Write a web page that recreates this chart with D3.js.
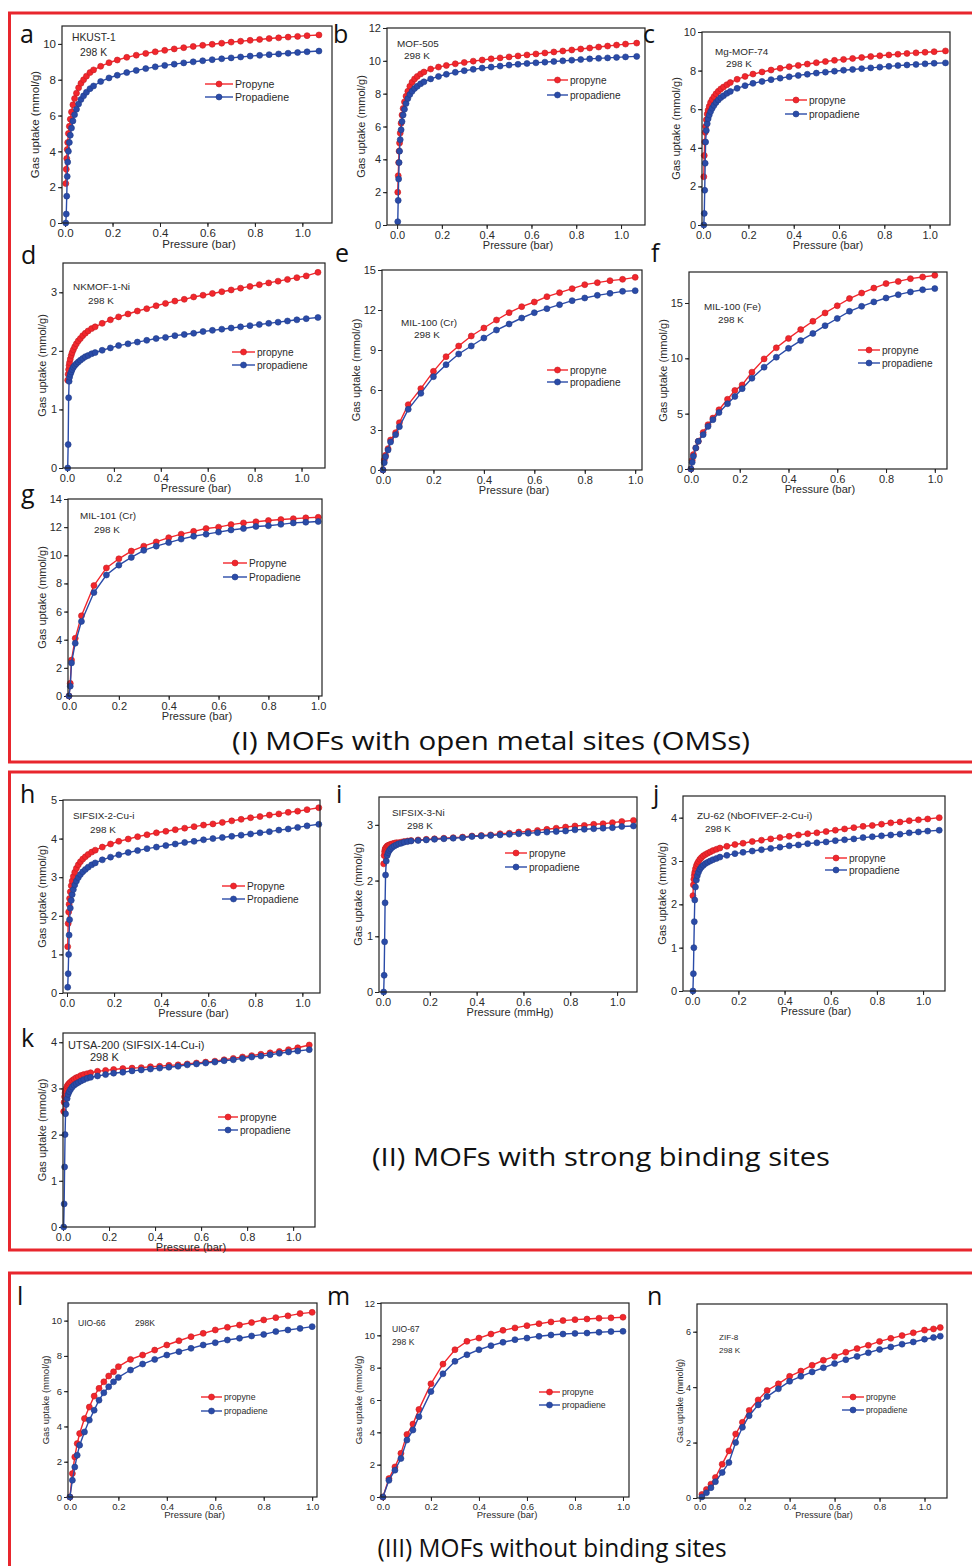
<!DOCTYPE html>
<html>
<head>
<meta charset="utf-8">
<script src="https://cdn.jsdelivr.net/npm/d3@7"></script>
<style>
  body { margin: 0; background: #fff; }
  svg text { font-family: Arial, "Liberation Sans", sans-serif; fill: #2a2a2a; }
  .letter, .section { font-family: "Open Sans", sans-serif !important; fill: #111 !important; }
</style>
</head>
<body>
<svg id="fig" width="972" height="1566"></svg>
<script>
// pressure grid shared by the dense isotherms (bar)
const PA = [0.003, 0.005, 0.007, 0.009, 0.011, 0.014, 0.018, 0.022, 0.027, 0.033, 0.04, 0.048, 0.057, 0.067, 0.078, 0.09, 0.105, 0.12, 0.15, 0.185, 0.22, 0.26, 0.30, 0.34, 0.38, 0.42, 0.46, 0.50, 0.54, 0.58, 0.62, 0.66, 0.70, 0.74, 0.78, 0.82, 0.86, 0.90, 0.94, 0.98, 1.02, 1.07];

const aPropyne    = [2.2, 3.0, 3.6, 4.1, 4.5, 5.0, 5.4, 5.8, 6.2, 6.6, 6.95, 7.25, 7.55, 7.8, 8.0, 8.2, 8.4, 8.55, 8.75, 8.95, 9.1, 9.25, 9.37, 9.47, 9.56, 9.64, 9.72, 9.79, 9.86, 9.92, 9.98, 10.04, 10.1, 10.15, 10.2, 10.25, 10.3, 10.34, 10.38, 10.42, 10.46, 10.5];
const aPropadiene = [0, 0.5, 1.5, 2.6, 3.4, 4.0, 4.5, 4.9, 5.3, 5.7, 6.05, 6.35, 6.65, 6.9, 7.1, 7.3, 7.5, 7.65, 7.9, 8.1, 8.25, 8.4, 8.52, 8.62, 8.72, 8.8, 8.87, 8.94, 9.0, 9.06, 9.12, 9.17, 9.22, 9.27, 9.32, 9.36, 9.4, 9.44, 9.48, 9.52, 9.56, 9.6];

const bPropyne    = [2.0, 3.0, 3.8, 4.5, 5.0, 5.6, 6.2, 6.7, 7.1, 7.5, 7.85, 8.15, 8.45, 8.7, 8.9, 9.05, 9.2, 9.32, 9.5, 9.62, 9.72, 9.82, 9.9, 9.98, 10.05, 10.12, 10.18, 10.24, 10.3, 10.36, 10.42, 10.48, 10.54, 10.6, 10.66, 10.72, 10.78, 10.84, 10.9, 10.96, 11.02, 11.08];
const bPropadiene = [0.2, 1.5, 2.8, 3.8, 4.5, 5.2, 5.8, 6.3, 6.7, 7.05, 7.4, 7.7, 7.95, 8.15, 8.32, 8.45, 8.6, 8.72, 8.9, 9.05, 9.18, 9.3, 9.4, 9.48, 9.56, 9.62, 9.68, 9.74, 9.79, 9.84, 9.88, 9.92, 9.96, 10.0, 10.04, 10.08, 10.12, 10.15, 10.18, 10.21, 10.24, 10.27];

const cPropyne    = [2.5, 3.6, 4.3, 4.8, 5.1, 5.45, 5.75, 5.95, 6.15, 6.35, 6.5, 6.65, 6.8, 6.93, 7.05, 7.15, 7.27, 7.38, 7.55, 7.7, 7.82, 7.93, 8.03, 8.12, 8.2, 8.27, 8.34, 8.41, 8.47, 8.53, 8.58, 8.63, 8.68, 8.73, 8.77, 8.81, 8.85, 8.89, 8.92, 8.95, 8.98, 9.02];
const cPropadiene = [0, 0.6, 1.8, 3.2, 4.3, 4.9, 5.25, 5.5, 5.7, 5.88, 6.05, 6.2, 6.35, 6.48, 6.6, 6.7, 6.82, 6.92, 7.08, 7.22, 7.34, 7.44, 7.53, 7.61, 7.68, 7.75, 7.81, 7.87, 7.92, 7.97, 8.02, 8.06, 8.1, 8.14, 8.18, 8.22, 8.26, 8.29, 8.32, 8.35, 8.38, 8.4];

const dPropyne    = [1.5, 1.6, 1.68, 1.75, 1.8, 1.86, 1.92, 1.97, 2.02, 2.07, 2.12, 2.17, 2.21, 2.26, 2.3, 2.34, 2.38, 2.41, 2.47, 2.53, 2.58, 2.63, 2.68, 2.72, 2.77, 2.81, 2.85, 2.88, 2.92, 2.95, 2.98, 3.01, 3.04, 3.07, 3.1, 3.13, 3.16, 3.19, 3.22, 3.25, 3.28, 3.34];
const dPropadiene = [0, 0.4, 1.2, 1.48, 1.55, 1.6, 1.64, 1.68, 1.72, 1.75, 1.78, 1.81, 1.84, 1.87, 1.9, 1.92, 1.95, 1.97, 2.01, 2.05, 2.09, 2.12, 2.15, 2.18, 2.21, 2.23, 2.26, 2.28, 2.3, 2.33, 2.35, 2.37, 2.39, 2.41, 2.43, 2.45, 2.47, 2.49, 2.51, 2.53, 2.55, 2.57];

const PE = [0, 0.005, 0.01, 0.02, 0.03, 0.05, 0.065, 0.1, 0.15, 0.2, 0.25, 0.3, 0.35, 0.4, 0.45, 0.5, 0.55, 0.6, 0.65, 0.7, 0.75, 0.8, 0.85, 0.9, 0.95, 1.0];
const ePropyne    = [0, 0.75, 1.1, 1.6, 2.25, 2.8, 3.55, 4.9, 6.1, 7.4, 8.5, 9.3, 10.05, 10.65, 11.25, 11.8, 12.25, 12.6, 13.0, 13.3, 13.6, 13.9, 14.05, 14.2, 14.3, 14.45];
const ePropadiene = [0, 0.55, 1.0, 1.5, 2.1, 2.65, 3.25, 4.55, 5.75, 7.0, 7.9, 8.7, 9.3, 9.9, 10.5, 10.95, 11.4, 11.8, 12.1, 12.4, 12.7, 12.9, 13.1, 13.25, 13.4, 13.45];

const PF = [0, 0.005, 0.01, 0.02, 0.03, 0.05, 0.07, 0.09, 0.115, 0.15, 0.18, 0.21, 0.25, 0.3, 0.35, 0.4, 0.45, 0.5, 0.55, 0.6, 0.65, 0.7, 0.75, 0.8, 0.85, 0.9, 0.95, 1.0];
const fPropyne    = [0, 0.8, 1.3, 1.9, 2.5, 3.3, 4.0, 4.6, 5.35, 6.3, 7.1, 7.6, 8.75, 9.95, 10.95, 11.8, 12.6, 13.35, 14.1, 14.75, 15.4, 15.9, 16.35, 16.75, 16.95, 17.2, 17.35, 17.5];
const fPropadiene = [0, 0.6, 1.15, 1.9, 2.5, 3.1, 3.85, 4.45, 5.1, 5.9, 6.55, 7.26, 8.2, 9.2, 10.1, 10.9, 11.6, 12.25, 12.95, 13.6, 14.25, 14.7, 15.1, 15.45, 15.75, 16.0, 16.2, 16.3];

const PG = [0, 0.005, 0.01, 0.025, 0.05, 0.1, 0.15, 0.2, 0.25, 0.3, 0.35, 0.4, 0.45, 0.5, 0.55, 0.6, 0.65, 0.7, 0.75, 0.8, 0.85, 0.9, 0.95, 1.0];
const gPropyne    = [0, 0.9, 2.55, 4.1, 5.7, 7.85, 9.1, 9.75, 10.3, 10.65, 10.95, 11.25, 11.5, 11.7, 11.9, 12.0, 12.18, 12.3, 12.38, 12.47, 12.54, 12.6, 12.66, 12.7];
const gPropadiene = [0, 0.7, 2.35, 3.75, 5.3, 7.35, 8.6, 9.3, 9.85, 10.35, 10.65, 10.9, 11.15, 11.35, 11.5, 11.65, 11.8, 11.9, 12.05, 12.1, 12.2, 12.3, 12.35, 12.4];

const hPropyne    = [1.2, 1.8, 2.1, 2.3, 2.45, 2.62, 2.78, 2.9, 3.02, 3.13, 3.23, 3.32, 3.4, 3.47, 3.53, 3.59, 3.65, 3.7, 3.78, 3.86, 3.93, 3.99, 4.05, 4.1, 4.15, 4.19, 4.23, 4.27, 4.31, 4.35, 4.38, 4.42, 4.46, 4.5, 4.54, 4.57, 4.61, 4.64, 4.68, 4.71, 4.75, 4.8];
const hPropadiene = [0.15, 0.5, 1.0, 1.5, 1.9, 2.2, 2.4, 2.55, 2.68, 2.8, 2.9, 2.99, 3.07, 3.14, 3.2, 3.26, 3.32, 3.37, 3.45, 3.52, 3.58, 3.64, 3.69, 3.74, 3.78, 3.82, 3.86, 3.9, 3.93, 3.97, 4.0, 4.03, 4.06, 4.09, 4.12, 4.15, 4.18, 4.22, 4.25, 4.29, 4.33, 4.37];

const iPropyne    = [2.3, 2.45, 2.52, 2.56, 2.58, 2.6, 2.62, 2.63, 2.64, 2.65, 2.66, 2.67, 2.68, 2.68, 2.69, 2.7, 2.71, 2.72, 2.73, 2.74, 2.75, 2.76, 2.77, 2.78, 2.8, 2.81, 2.82, 2.84, 2.85, 2.87, 2.88, 2.9, 2.92, 2.94, 2.96, 2.98, 2.99, 3.01, 3.02, 3.04, 3.06, 3.08];
const iPropadiene = [0, 0.3, 0.9, 1.6, 2.1, 2.35, 2.45, 2.5, 2.54, 2.57, 2.6, 2.62, 2.64, 2.66, 2.67, 2.69, 2.7, 2.71, 2.72, 2.73, 2.74, 2.75, 2.76, 2.77, 2.79, 2.8, 2.81, 2.82, 2.83, 2.84, 2.85, 2.86, 2.87, 2.88, 2.89, 2.91, 2.92, 2.93, 2.94, 2.95, 2.97, 2.98];

const jPropyne    = [2.2, 2.45, 2.58, 2.67, 2.74, 2.82, 2.89, 2.94, 2.99, 3.04, 3.08, 3.12, 3.15, 3.18, 3.21, 3.24, 3.27, 3.3, 3.34, 3.38, 3.41, 3.45, 3.48, 3.51, 3.54, 3.57, 3.6, 3.63, 3.65, 3.68, 3.71, 3.74, 3.77, 3.8, 3.82, 3.85, 3.88, 3.9, 3.93, 3.95, 3.97, 4.0];
const jPropadiene = [0, 0.4, 1.0, 1.6, 2.1, 2.4, 2.56, 2.66, 2.74, 2.81, 2.86, 2.9, 2.94, 2.97, 3.0, 3.03, 3.06, 3.09, 3.13, 3.17, 3.2, 3.23, 3.26, 3.29, 3.32, 3.35, 3.37, 3.4, 3.42, 3.44, 3.47, 3.49, 3.51, 3.54, 3.56, 3.58, 3.6, 3.62, 3.65, 3.67, 3.69, 3.71];

const kPropyne    = [2.5, 2.7, 2.82, 2.9, 2.95, 3.0, 3.05, 3.08, 3.11, 3.14, 3.17, 3.2, 3.23, 3.25, 3.28, 3.3, 3.32, 3.34, 3.37, 3.39, 3.41, 3.43, 3.44, 3.45, 3.47, 3.48, 3.5, 3.51, 3.53, 3.55, 3.57, 3.59, 3.62, 3.65, 3.68, 3.71, 3.74, 3.77, 3.8, 3.84, 3.88, 3.94];
const kPropadiene = [0, 0.5, 1.3, 2.0, 2.45, 2.65, 2.78, 2.87, 2.93, 2.98, 3.03, 3.07, 3.1, 3.13, 3.16, 3.19, 3.22, 3.24, 3.27, 3.3, 3.33, 3.35, 3.38, 3.4, 3.42, 3.44, 3.46, 3.48, 3.51, 3.53, 3.55, 3.57, 3.6, 3.62, 3.65, 3.68, 3.7, 3.73, 3.76, 3.79, 3.81, 3.84];

const PL = [0, 0.01, 0.02, 0.03, 0.04, 0.06, 0.08, 0.1, 0.12, 0.14, 0.16, 0.18, 0.2, 0.25, 0.3, 0.35, 0.4, 0.45, 0.5, 0.55, 0.6, 0.65, 0.7, 0.75, 0.8, 0.85, 0.9, 0.95, 1.0];
const lPropyne    = [0, 1.33, 2.27, 3.03, 3.6, 4.45, 5.1, 5.72, 6.16, 6.53, 6.86, 7.1, 7.39, 7.8, 8.05, 8.33, 8.62, 8.86, 9.09, 9.28, 9.47, 9.62, 9.75, 9.89, 10.04, 10.17, 10.27, 10.4, 10.47];
const lPropadiene = [0, 0.95, 1.7, 2.37, 2.94, 3.69, 4.36, 4.92, 5.49, 5.91, 6.25, 6.53, 6.78, 7.2, 7.54, 7.8, 8.05, 8.24, 8.43, 8.62, 8.75, 8.9, 9.0, 9.13, 9.22, 9.38, 9.47, 9.56, 9.66];

const PM = [0, 0.025, 0.05, 0.075, 0.1, 0.125, 0.15, 0.2, 0.25, 0.3, 0.35, 0.4, 0.45, 0.5, 0.55, 0.6, 0.65, 0.7, 0.75, 0.8, 0.85, 0.9, 0.95, 1.0];
const mPropyne    = [0, 1.14, 1.86, 2.7, 3.87, 4.51, 5.42, 7.0, 8.22, 9.11, 9.63, 9.83, 10.08, 10.31, 10.46, 10.6, 10.72, 10.83, 10.91, 10.97, 11.01, 11.06, 11.08, 11.12];
const mPropadiene = [0, 1.03, 1.66, 2.38, 3.52, 4.14, 4.97, 6.52, 7.62, 8.39, 8.8, 9.11, 9.36, 9.57, 9.73, 9.83, 9.94, 10.02, 10.08, 10.12, 10.14, 10.19, 10.23, 10.25];

const PN = [0.01, 0.03, 0.05, 0.07, 0.1, 0.13, 0.16, 0.19, 0.22, 0.26, 0.3, 0.35, 0.4, 0.45, 0.5, 0.55, 0.6, 0.65, 0.7, 0.75, 0.8, 0.85, 0.9, 0.95, 1.0, 1.04, 1.07];
const nPropyne    = [0.13, 0.31, 0.5, 0.74, 1.22, 1.7, 2.31, 2.73, 3.16, 3.54, 3.88, 4.12, 4.39, 4.58, 4.79, 4.97, 5.11, 5.26, 5.39, 5.51, 5.65, 5.76, 5.86, 5.96, 6.06, 6.1, 6.15];
const nPropadiene = [0.04, 0.19, 0.37, 0.59, 0.92, 1.28, 2.0, 2.55, 2.97, 3.36, 3.66, 3.94, 4.21, 4.39, 4.55, 4.7, 4.85, 4.99, 5.11, 5.24, 5.36, 5.45, 5.55, 5.63, 5.73, 5.79, 5.84];

const capNames = ["Propyne", "Propadiene"];
const lowNames = ["propyne", "propadiene"];

const RED = "#f2262c", BLUE = "#2a4ba8";
const svg = d3.select("#fig");

// red section frames
const sections = [
  { box: [9.5, 13, 990, 762], title: "(I) MOFs with open metal sites (OMSs)", tx: 491, ty: 750, tw: 518 },
  { box: [9.5, 772, 990, 1250], title: "(II) MOFs with strong binding sites", tx: 601, ty: 1166, tw: 458 },
  { box: [9.5, 1273, 990, 1600], title: "(III) MOFs without binding sites", tx: 552, ty: 1557, tw: 349 }
];
sections.forEach(s => {
  svg.append("rect")
    .attr("x", s.box[0]).attr("y", s.box[1])
    .attr("width", s.box[2] - s.box[0]).attr("height", s.box[3] - s.box[1])
    .attr("fill", "none").attr("stroke", "#e8262d").attr("stroke-width", 3);
  svg.append("text").attr("class", "section")
    .attr("x", s.tx).attr("y", s.ty).attr("text-anchor", "middle")
    .attr("font-size", 25)
    .attr("textLength", s.tw).attr("lengthAdjust", "spacingAndGlyphs")
    .text(s.title);
});

const panels = [
  { l: "a", lp: [20, 43], box: [62, 26, 332, 223], xd: [-0.013, 1.125], yd: [0, 11], ys: 2, P: PA, r: aPropyne, b: aPropadiene, names: capNames,
    leg: [205, 84, 97, 28], note: ["HKUST-1", 72, 41, "298 K", 80, 56], fs: 11.5, xt: "Pressure (bar)" },
  { l: "b", lp: [333, 43], box: [387, 28, 645, 225], xd: [-0.045, 1.107], yd: [0, 12], ys: 2, P: PA, r: bPropyne, b: bPropadiene, names: lowNames,
    leg: [547, 80, 95, 21], note: ["MOF-505", 397, 46.5, "298 K", 404, 58.5], fs: 11, xt: "Pressure (bar)" },
  { l: "c", lp: [643, 43], box: [702, 32, 950, 225], xd: [-0.005, 1.09], yd: [0, 10], ys: 2, P: PA, r: cPropyne, b: cPropadiene, names: lowNames,
    leg: [785, 100, 114, 22], note: ["Mg-MOF-74", 715, 55, "298 K", 726, 67], fs: 11, xt: "Pressure (bar)" },
  { l: "d", lp: [21, 264], box: [63, 263, 325, 468], xd: [-0.017, 1.1], yd: [0, 3.5], ys: 1, P: PA, r: dPropyne, b: dPropadiene, names: lowNames,
    leg: [232, 352, 365, 23], note: ["NKMOF-1-Ni", 73, 289.5, "298 K", 88, 303.5], fs: 11, xt: "Pressure (bar)" },
  { l: "e", lp: [335, 262], box: [382, 270, 642, 470], xd: [-0.004, 1.027], yd: [0, 15], ys: 3, P: PE, r: ePropyne, b: ePropadiene, names: lowNames,
    leg: [547, 370, 382, 21], note: ["MIL-100 (Cr)", 401, 325.5, "298 K", 414, 337.5], fs: 11, xt: "Pressure (bar)" },
  { l: "f", lp: [651, 262], box: [689, 272, 947, 469], xd: [-0.008, 1.05], yd: [0, 17.8], ys: 5, P: PF, r: fPropyne, b: fPropadiene, names: lowNames,
    leg: [858, 350, 363, 22], note: ["MIL-100 (Fe)", 704, 309.5, "298 K", 718, 322.5], fs: 11, xt: "Pressure (bar)" },
  { l: "g", lp: [21, 503], box: [68, 499, 322, 696], xd: [-0.004, 1.015], yd: [0, 14], ys: 2, P: PG, r: gPropyne, b: gPropadiene, names: capNames,
    leg: [223, 563, 577, 24], note: ["MIL-101 (Cr)", 80, 519, "298 K", 94, 532.5], fs: 11, xt: "Pressure (bar)" },
  { l: "h", lp: [20, 803], box: [63, 800, 320, 993], xd: [-0.017, 1.075], yd: [0, 5], ys: 1, P: PA, r: hPropyne, b: hPropadiene, names: capNames,
    leg: [222, 886, 899, 23], note: ["SIFSIX-2-Cu-i", 73, 819, "298 K", 90, 832.5], fs: 11, xt: "Pressure (bar)" },
  { l: "i", lp: [336, 803], box: [379, 797, 637, 992], xd: [-0.017, 1.085], yd: [0, 3.5], ys: 1, P: PA, r: iPropyne, b: iPropadiene, names: lowNames,
    leg: [505, 853, 867, 22], note: ["SIFSIX-3-Ni", 392, 815.5, "298 K", 407, 828.5], fs: 11, xt: "Pressure (mmHg)" },
  { l: "j", lp: [653, 803], box: [683, 796, 945, 991], xd: [-0.04, 1.095], yd: [0, 4.5], ys: 1, P: PA, r: jPropyne, b: jPropadiene, names: lowNames,
    leg: [825, 858, 870, 22], note: ["ZU-62 (NbOFIVEF-2-Cu-i)", 697, 819, "298 K", 705, 831.5], fs: 11, xt: "Pressure (bar)" },
  { l: "k", lp: [21, 1047], box: [63, 1033, 315, 1227], xd: [0, 1.095], yd: [0, 4.2], ys: 1, P: PA, r: kPropyne, b: kPropadiene, names: lowNames,
    leg: [218, 1117, 1130, 20], note: ["UTSA-200 (SIFSIX-14-Cu-i)", 68, 1049, "298 K", 90, 1061], fs: 11, nfs: 11, xt: "Pressure (bar)" },
  { l: "l", lp: [17, 1305], box: [68, 1303, 317, 1497], xd: [-0.008, 1.02], yd: [0, 11], ys: 2, P: PL, r: lPropyne, b: lPropadiene, names: lowNames,
    leg: [201, 1397, 1411, 21], note: ["UIO-66", 78, 1326, "298K", 135, 1326], fs: 9.5, xt: "Pressure (bar)" },
  { l: "m", lp: [327, 1305], box: [381, 1303, 629, 1497], xd: [-0.008, 1.025], yd: [0, 12], ys: 2, P: PM, r: mPropyne, b: mPropadiene, names: lowNames,
    leg: [539, 1392, 1405, 21], note: ["UIO-67", 392, 1331.5, "298 K", 392, 1344.5], fs: 9.5, xt: "Pressure (bar)" },
  { l: "n", lp: [647, 1305], box: [697, 1304, 947, 1498], xd: [-0.012, 1.1], yd: [0, 7], ys: 2, P: PN, r: nPropyne, b: nPropadiene, names: lowNames,
    leg: [842, 1397, 1410, 22], note: ["ZIF-8", 719, 1340, "298 K", 719, 1352.5], fs: 9, xt: "Pressure (bar)" }
];

function ticksBetween(lo, hi, step) {
  const out = [];
  for (let v = 0; v <= hi + 1e-9; v += step) if (v >= lo - 1e-9) out.push(+v.toFixed(4));
  return out;
}

function marks(g, x, y, P, vals, color) {
  const pts = P.map((p, i) => [p, vals[i]]);
  g.append("path").datum(pts)
    .attr("fill", "none").attr("stroke", color).attr("stroke-width", 1.4)
    .attr("d", d3.line().x(d => x(d[0])).y(d => y(d[1])));
  g.selectAll(null).data(pts).enter().append("circle")
    .attr("cx", d => x(d[0])).attr("cy", d => y(d[1])).attr("r", 3)
    .attr("fill", color).attr("stroke", d3.color(color).darker(0.6)).attr("stroke-width", 0.6);
}

panels.forEach(p => {
  const [x0, y0, x1, y1] = p.box;
  const x = d3.scaleLinear().domain(p.xd).range([x0, x1]);
  const y = d3.scaleLinear().domain(p.yd).range([y1, y0]);
  const g = svg.append("g");
  const fs = p.fs;

  // minor ticks
  g.append("g").attr("transform", `translate(0,${y1})`)
    .call(d3.axisBottom(x).tickValues(ticksBetween(0.1, p.xd[1], 0.2)).tickSize(2.5).tickFormat(""))
    .call(a => a.select(".domain").remove());
  g.append("g").attr("transform", `translate(${x0},0)`)
    .call(d3.axisLeft(y).tickValues(ticksBetween(p.ys / 2, p.yd[1], p.ys)).tickSize(2.5).tickFormat(""))
    .call(a => a.select(".domain").remove());

  // major ticks
  const xa = g.append("g").attr("transform", `translate(0,${y1})`)
    .call(d3.axisBottom(x).tickValues(ticksBetween(0, p.xd[1], 0.2)).tickSize(4).tickPadding(2).tickFormat(d3.format(".1f")));
  xa.select(".domain").remove();
  xa.selectAll("text").attr("font-size", fs).attr("font-family", null);
  const ya = g.append("g").attr("transform", `translate(${x0},0)`)
    .call(d3.axisLeft(y).tickValues(ticksBetween(0, p.yd[1], p.ys)).tickSize(4).tickPadding(2).tickFormat(d3.format("d")));
  ya.select(".domain").remove();
  ya.selectAll("text").attr("font-size", fs).attr("font-family", null);
  g.selectAll(".tick line").attr("stroke", "#222");

  // axis titles
  g.append("text").attr("x", (x0 + x1) / 2 + 2).attr("y", y1 + fs * 2.2)
    .attr("text-anchor", "middle").attr("font-size", fs).text(p.xt);
  const digits = String(p.yd[1] >= 10 ? 10 : 1).length;
  const yx = x0 - (digits === 2 ? 22 : 17) * fs / 11;
  g.append("text").attr("transform", `translate(${yx},${(y0 + y1) / 2}) rotate(-90)`)
    .attr("text-anchor", "middle").attr("font-size", fs).text("Gas uptake (mmol/g)");

  // data
  marks(g, x, y, p.P, p.r, RED);
  marks(g, x, y, p.P, p.b, BLUE);

  // frame
  g.append("rect").attr("x", x0).attr("y", y0).attr("width", x1 - x0).attr("height", y1 - y0)
    .attr("fill", "none").attr("stroke", "#222").attr("stroke-width", 1.2);

  // notes
  const nfs = p.nfs || fs * 0.9;
  g.append("text").attr("x", p.note[1]).attr("y", p.note[2]).attr("font-size", nfs).attr("fill", "#333").text(p.note[0]);
  g.append("text").attr("x", p.note[4]).attr("y", p.note[5]).attr("font-size", nfs).attr("fill", "#333").text(p.note[3]);

  // legend
  const [lx, ly1, ly2, lw] = p.leg;
  [[ly1, RED, p.names[0]], [ly2, BLUE, p.names[1]]].forEach(([ly, c, name]) => {
    g.append("line").attr("x1", lx).attr("x2", lx + lw).attr("y1", ly).attr("y2", ly)
      .attr("stroke", c).attr("stroke-width", 1.4);
    g.append("circle").attr("cx", lx + lw / 2).attr("cy", ly).attr("r", 3)
      .attr("fill", c).attr("stroke", d3.color(c).darker(0.6)).attr("stroke-width", 0.6);
    g.append("text").attr("x", lx + lw + 2).attr("y", ly + fs * 0.36)
      .attr("font-size", fs * 0.92).text(name);
  });

  // panel letter
  svg.append("text").attr("class", "letter").attr("x", p.lp[0]).attr("y", p.lp[1])
    .attr("font-size", 25).text(p.l);
});
</script>
</body>
</html>
